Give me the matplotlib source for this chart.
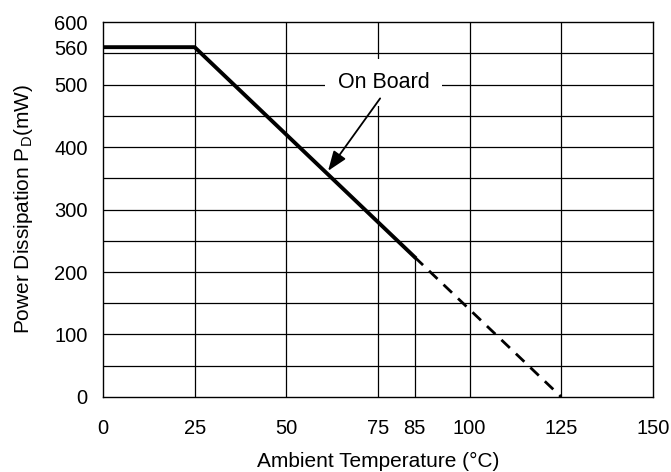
import matplotlib
matplotlib.use("Agg")
import matplotlib.pyplot as plt

plt.rcParams['font.family'] = ['Liberation Sans', 'DejaVu Sans']

# derating curve
temp_solid = [0, 25, 85]
power_solid = [560, 560, 224]
temp_dash = [85, 125]
power_dash = [224, 0]

xticks = [0, 25, 50, 75, 85, 100, 125, 150]
yticks = [0, 100, 200, 300, 400, 500, 560, 600]
vgrid = [25, 50, 75, 100, 125]
hgrid = [50, 100, 150, 200, 250, 300, 350, 400, 450, 500, 550]

fig = plt.figure(figsize=(6.71, 4.72), dpi=100)
ax = fig.add_axes([0.1535, 0.159, 0.8195, 0.794])

for x in vgrid:
    ax.axvline(x, color='black', lw=0.9, zorder=1)
for y in hgrid:
    ax.axhline(y, color='black', lw=0.9, zorder=1)
ax.plot([85, 85], [0, 224], color='black', lw=0.9, zorder=1)

ax.plot(temp_solid, power_solid, color='black', lw=2.8, zorder=3)
ax.plot(temp_dash, power_dash, color='black', lw=2.0, ls=(0, (4.2, 3)), zorder=3)

ax.text(76.5, 504, 'On Board', ha='center', va='center', fontsize=15.5,
        bbox=dict(boxstyle='square,pad=0.6', fc='white', ec='none'), zorder=4)
ax.annotate('', xy=(61.4, 362), xytext=(75.6, 478),
            arrowprops=dict(arrowstyle='-|>,head_length=0.8,head_width=0.3',
                            color='black', lw=1.3, shrinkA=0, shrinkB=0,
                            mutation_scale=15),
            zorder=5)

ax.set_xlim(0, 150)
ax.set_ylim(0, 600)
ax.set_xticks(xticks)
ax.set_yticks(yticks)
ax.tick_params(axis='x', length=0, labelsize=14.5, pad=16)
ax.tick_params(axis='y', length=0, labelsize=14.5, pad=11)
for s in ax.spines.values():
    s.set_linewidth(1.0)

ax.set_xlabel('Ambient Temperature (°C)', fontsize=15, labelpad=10)
ax.set_ylabel('Power Dissipation P$_{\\mathregular{D}}$(mW)', fontsize=15, labelpad=14)

fig.savefig('out.png', dpi=100)
